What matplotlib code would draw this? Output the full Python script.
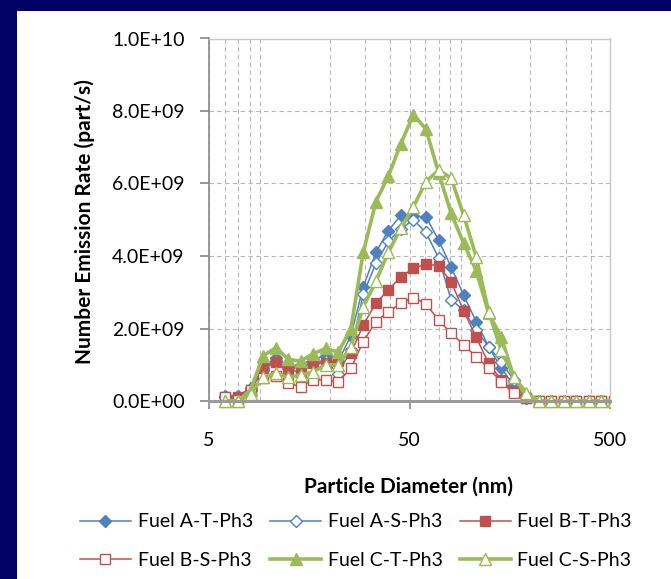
import numpy as np
import matplotlib
matplotlib.use('Agg')
import matplotlib.pyplot as plt
import matplotlib.patches as mpatches
from matplotlib.ticker import FuncFormatter, NullFormatter

# particle diameter channels (nm)
diam = [6.04, 6.98, 8.06, 9.31, 10.8, 12.4, 14.3, 16.5, 19.1, 22.1, 25.5,
        29.4, 34.0, 39.2, 45.3, 52.3, 60.4, 69.8, 80.6, 93.1, 107.5, 124.1,
        143.3, 165.5, 191.1, 220.7, 254.8, 294.3, 339.8, 392.4, 453.2, 523.3]

# emission rates, 1e9 part/s
fuel_a_t = [0.15, 0.15, 0.35, 0.9, 1.2, 0.95, 1.0, 1.15, 1.25, 1.1, 1.8, 3.15,
            4.1, 4.7, 5.13, 5.1, 5.08, 4.44, 3.7, 2.92, 2.19, 1.5, 0.91, 0.44,
            0.08, 0, 0, 0, 0, 0, 0, 0]
fuel_a_s = [0.1, 0.1, 0.3, 0.85, 1.1, 0.9, 0.95, 1.05, 1.1, 0.75, 1.4, 2.95,
            3.8, 4.4, 4.75, 5.0, 4.65, 3.95, 2.8, 2.5, 1.95, 1.5, 1.08, 0.58,
            0.1, 0, 0, 0, 0, 0, 0, 0]
fuel_b_t = [0.1, 0.1, 0.3, 0.95, 1.08, 0.86, 0.8, 1.05, 1.04, 1.1, 1.32, 2.1,
            2.7, 3.06, 3.43, 3.66, 3.78, 3.73, 3.29, 2.49, 1.76, 1.04, 0.58,
            0.26, 0.08, 0, 0, 0, 0, 0, 0, 0]
fuel_b_s = [0.1, 0.03, 0.3, 0.63, 0.7, 0.49, 0.4, 0.58, 0.58, 0.53, 0.9, 1.64,
            2.19, 2.46, 2.7, 2.85, 2.68, 2.23, 1.87, 1.55, 1.22, 0.9, 0.53,
            0.21, 0.08, 0, 0, 0, 0, 0, 0, 0]
fuel_c_t = [0, 0, 0.3, 1.25, 1.47, 1.15, 1.1, 1.3, 1.45, 1.35, 2.0, 4.1, 5.5,
            6.2, 7.1, 7.9, 7.5, 6.3, 5.18, 4.35, 3.6, 2.42, 1.77, 0.67, 0.15,
            0, 0, 0, 0, 0, 0, 0]
fuel_c_s = [0, 0, 0.2, 0.65, 0.77, 0.65, 0.72, 0.8, 1.0, 1.0, 1.5, 2.6, 3.3,
            4.1, 4.77, 5.36, 6.05, 6.37, 6.15, 5.13, 3.98, 2.46, 1.4, 0.67,
            0.23, 0, 0, 0, 0, 0, 0, 0]

labels = ['Fuel A-T-Ph3', 'Fuel A-S-Ph3', 'Fuel B-T-Ph3',
          'Fuel B-S-Ph3', 'Fuel C-T-Ph3', 'Fuel C-S-Ph3']
series = [fuel_a_t, fuel_a_s, fuel_b_t, fuel_b_s, fuel_c_t, fuel_c_s]

blue = '#4F81BD'
red = '#C0504D'
green = '#9BBB59'
styles = [
    dict(color=blue, lw=1.1, marker='D', ms=6.5, mfc=blue, mec=blue),
    dict(color=blue, lw=1.1, marker='D', ms=6.5, mfc='white', mec=blue, mew=1.0),
    dict(color=red, lw=1.1, marker='s', ms=6.5, mfc=red, mec=red),
    dict(color=red, lw=1.1, marker='s', ms=6.5, mfc='white', mec=red, mew=1.0),
    dict(color=green, lw=2.6, marker='^', ms=8, mfc=green, mec=green),
    dict(color=green, lw=2.6, marker='^', ms=8, mfc='white', mec=green, mew=1.0),
]

plt.rcParams['font.family'] = ['Lato', 'DejaVu Sans']

W, H = 671, 579
fig = plt.figure(figsize=(W / 100, H / 100), dpi=100, facecolor='#000066')
fig.patches.append(mpatches.Rectangle((17 / W, 0), 1, 1 - 11 / H,
                                      transform=fig.transFigure,
                                      facecolor='white', edgecolor='none',
                                      zorder=-10))

ax = fig.add_axes([209 / W, (H - 401) / H, 401 / W, 362.5 / H])
ax.set_facecolor('white')
ax.set_axisbelow(True)

clip = mpatches.Rectangle((0, -0.04), 1, 1.08, transform=ax.transAxes)
lines = []
for vals, lab, st in zip(series, labels, styles):
    ln, = ax.plot(diam, np.array(vals) * 1e9, label=lab, **st)
    ln.set_clip_path(clip)
    lines.append(ln)

ax.set_xscale('log')
ax.set_xlim(5, 500)
ax.set_ylim(0, 1e10)
ax.set_xticks([5, 50, 500])
ax.set_xticklabels(['5', '50', '500'])
ax.xaxis.set_minor_formatter(NullFormatter())
ax.set_yticks(np.arange(0, 1.01e10, 2e9))
ax.yaxis.set_major_formatter(FuncFormatter(lambda v, p: f'{v:.1E}'))

ax.grid(which='both', axis='x', color='#b8b8b8', ls=(0, (4, 3)), lw=0.8)
ax.grid(which='major', axis='y', color='#b8b8b8', ls=(0, (4, 3)), lw=0.8)

ax.tick_params(axis='y', length=6.5, width=1.2, color='#888888', pad=11,
               labelsize=14)
ax.tick_params(axis='x', which='major', length=6, width=1.2, color='#888888',
               pad=16, labelsize=14)
ax.tick_params(axis='x', which='minor', length=0)

ax.spines['left'].set_color('#888888')
ax.spines['left'].set_linewidth(1.2)
ax.spines['bottom'].set_color('#9a9a9a')
ax.spines['bottom'].set_linewidth(2.2)
for s in ['top', 'right']:
    ax.spines[s].set_color('#c8c8c8')
    ax.spines[s].set_linewidth(1.0)

fig.text(85 / W, 1 - 222 / H, 'Number Emission Rate (part/s)', rotation=90,
         ha='center', va='center', fontsize=15, fontweight='bold')
fig.text(408 / W, 1 - 487 / H, 'Particle Diameter (nm)',
         ha='center', va='center', fontsize=15, fontweight='bold')

# matplotlib fills legend columns first, reorder to get Excel's row order
order = [0, 3, 1, 4, 2, 5]
fig.legend([lines[i] for i in order], [labels[i] for i in order],
           loc='center', bbox_to_anchor=(356 / W, 1 - 541 / H), ncol=3,
           frameon=False, fontsize=14, handlelength=2.6, handletextpad=0.35,
           columnspacing=0.9, labelspacing=1.1, borderpad=0)

fig.savefig('out.png', dpi=100, facecolor=fig.get_facecolor())
